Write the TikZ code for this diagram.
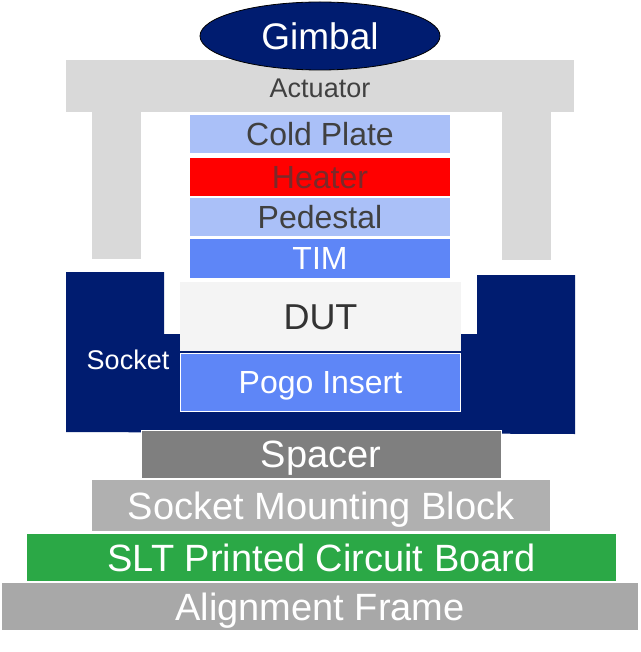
\documentclass[tikz,border=0pt]{standalone}
\usepackage{fontspec}
\setmainfont{Liberation Sans}
\usetikzlibrary{shapes.geometric}
\definecolor{navy}{HTML}{001C70}
\definecolor{actgray}{HTML}{D9D9D9}
\definecolor{lightblue}{HTML}{AAC0F8}
\definecolor{midblue}{HTML}{5E86F7}
\definecolor{txtdark}{HTML}{404040}
\definecolor{heatred}{HTML}{FF0000}
\definecolor{heattxt}{HTML}{7A2A2A}
\definecolor{dutwhite}{HTML}{F4F4F4}
\definecolor{spacergray}{HTML}{7F7F7F}
\definecolor{smbgray}{HTML}{B0B0B0}
\definecolor{pcbgreen}{HTML}{2BA846}
\definecolor{framegray}{HTML}{A8A8A8}
\tikzset{
  layer/.style={draw=none, inner sep=0pt, outer sep=0pt, anchor=center, text depth=0pt},
  big/.style={font=\fontsize{38}{40}\selectfont, text=white, text height=27.2pt},
  mid/.style={font=\fontsize{32}{34}\selectfont, text height=22.9pt},
  small/.style={font=\fontsize{27}{29}\selectfont, text height=19.3pt}
}
\begin{document}
\begin{tikzpicture}[x=1pt, y=-1pt]
\useasboundingbox (0,0) rectangle (640,652);
% Actuator
\fill[actgray] (66,60) rectangle (574,112);
\fill[actgray] (92,112) rectangle (141,259);
\fill[actgray] (502,112) rectangle (551,260);
\node[layer, small, text=txtdark] (act) at (320,88) {Actuator};
% Gimbal
\node[ellipse, draw=black, line width=0.8pt, fill=navy, minimum width=240, minimum height=68, inner sep=0pt, font=\fontsize{37}{39}\selectfont, text=white, text height=26.5pt, text depth=0pt] (gimbal) at (320,36) {Gimbal};
% Thermal stack
\node[layer, mid, fill=lightblue, text=txtdark, minimum width=260, minimum height=38] (cold) at (320,134) {Cold Plate};
\node[layer, mid, fill=heatred, text=heattxt, minimum width=260, minimum height=38] (heater) at (320,177) {Heater};
\node[layer, mid, fill=lightblue, text=txtdark, minimum width=260, minimum height=38] (ped) at (320,217) {Pedestal};
\node[layer, mid, fill=midblue, text=white, minimum width=260, minimum height=39] (tim) at (320,258.5) {TIM};
% Socket
\fill[navy] (66,272) -- (164,272) -- (164,334) -- (477,334) -- (477,275) -- (575,275) -- (575,434) -- (66,432) -- cycle;
\node[layer, small, text=white] (socket) at (128,360) {Socket};
% DUT and Pogo insert
\node[layer, fill=dutwhite, text=black!80, font=\fontsize{36}{38}\selectfont, text height=25.8pt, minimum width=281, minimum height=69] (dut) at (320.5,316.5) {DUT};
\node[layer, mid, fill=midblue, draw=white, line width=1pt, text=white, minimum width=280, minimum height=58] (pogo) at (320.5,382.5) {Pogo Insert};
% Base stack
\node[layer, big, fill=spacergray, draw=white, line width=1pt, minimum width=360, minimum height=48] (spacer) at (321,454) {Spacer};
\node[layer, big, fill=smbgray, minimum width=458, minimum height=51] (smb) at (321,505.5) {Socket Mounting Block};
\node[layer, big, fill=pcbgreen, minimum width=589, minimum height=47] (pcb) at (321.5,557.5) {SLT Printed Circuit Board};
\node[layer, big, fill=framegray, minimum width=636, minimum height=47] (frame) at (320,606.5) {Alignment Frame};
\end{tikzpicture}
\end{document}
